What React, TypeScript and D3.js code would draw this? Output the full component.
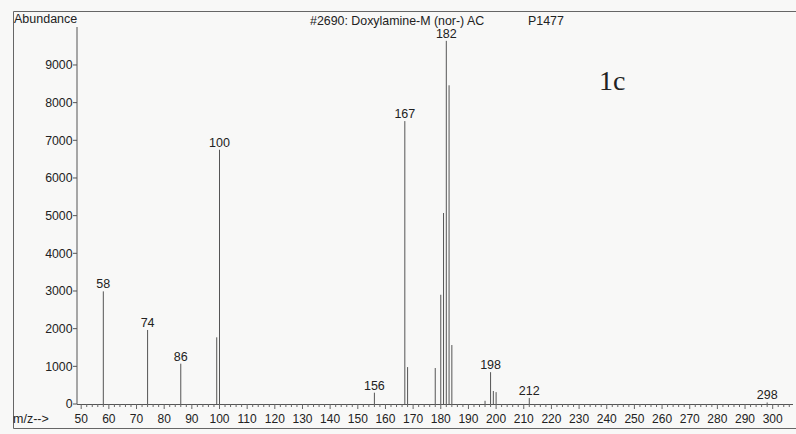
import React, { useEffect, useRef } from 'react';
import * as d3 from 'd3';

// peaks
const mzValues = [58, 74, 86, 99, 100, 156, 167, 168, 178, 180, 181, 182, 183, 184, 196, 198, 199, 200, 212, 298];
const abundances = [2990, 1965, 1070, 1770, 6750, 300, 7510, 980, 955, 2900, 5070, 9640, 8460, 1565, 85, 845, 345, 315, 160, 40];
const labeledPeaks = [58, 74, 86, 100, 156, 167, 182, 198, 212, 298];
const yTickValues = [0, 1000, 2000, 3000, 4000, 5000, 6000, 7000, 8000, 9000];
const xTickValues = d3.range(50, 301, 10);
const xMinorValues = d3.range(50, 307, 2);

const FONT = '"Liberation Sans", Arial, sans-serif';

const App: React.FC = () => {
    const svgRef = useRef<SVGSVGElement | null>(null);

    useEffect(() => {
        if (!svgRef.current) return;
        const width = 796;
        const height = 434;

        const svg = d3.select(svgRef.current)
            .attr('width', width)
            .attr('height', height)
            .attr('viewBox', `0 0 ${width} ${height}`);
        svg.selectAll('*').remove();

        const x = d3.scaleLinear().domain([50, 300]).range([81.2, 772.7]);
        const y = d3.scaleLinear().domain([0, 10000]).range([404, 27.3]);
        const axisX = 77;
        const axisY = y(0);

        svg.append('rect').attr('width', width).attr('height', height).attr('fill', '#f8f8f7');

        // frame
        svg.append('path')
            .attr('d', `M${width},11.5 H13.5 V428.5 H${width}`)
            .attr('fill', 'none').attr('stroke', '#666').attr('stroke-width', 1);

        // y axis
        svg.append('line')
            .attr('x1', axisX).attr('x2', axisX).attr('y1', 27).attr('y2', axisY)
            .attr('stroke', '#555');
        const yt = svg.append('g');
        yTickValues.forEach(v => {
            yt.append('line')
                .attr('x1', axisX - 4).attr('x2', axisX).attr('y1', y(v)).attr('y2', y(v))
                .attr('stroke', '#555');
            yt.append('text')
                .attr('x', axisX - 4.5).attr('y', y(v) + 4.4)
                .attr('text-anchor', 'end').attr('font-family', FONT).attr('font-size', 12.3)
                .attr('fill', '#222').text(v);
        });

        // x axis
        svg.append('line')
            .attr('x1', axisX).attr('x2', 793).attr('y1', axisY + 0.5).attr('y2', axisY + 0.5)
            .attr('stroke', '#555');
        const xt = svg.append('g');
        xMinorValues.forEach(v => {
            const major = v % 10 === 0;
            xt.append('line')
                .attr('x1', x(v)).attr('x2', x(v))
                .attr('y1', axisY).attr('y2', axisY + (major ? 5 : 3))
                .attr('stroke', '#666');
        });
        xTickValues.forEach(v => {
            xt.append('text')
                .attr('x', x(v)).attr('y', 422.7)
                .attr('text-anchor', 'middle').attr('font-family', FONT).attr('font-size', 12)
                .attr('fill', '#222').text(v);
        });

        // peaks
        svg.append('g')
            .selectAll('line')
            .data(mzValues)
            .join('line')
            .attr('x1', d => x(d)).attr('x2', d => x(d))
            .attr('y1', axisY)
            .attr('y2', (d, i) => y(abundances[i]))
            .attr('stroke', '#555')
            .attr('stroke-width', 1);

        svg.append('g')
            .selectAll('text')
            .data(labeledPeaks)
            .join('text')
            .attr('x', d => x(d))
            .attr('y', d => y(abundances[mzValues.indexOf(d)]) - 3)
            .attr('text-anchor', 'middle')
            .attr('font-family', FONT).attr('font-size', 12.5)
            .attr('fill', '#222')
            .text(d => d);

        // header texts
        svg.append('text').attr('x', 14).attr('y', 23)
            .attr('font-family', FONT).attr('font-size', 12.5).attr('fill', '#222')
            .text('Abundance');
        svg.append('text').attr('x', 310).attr('y', 24.5)
            .attr('font-family', FONT).attr('font-size', 12.4).attr('fill', '#222')
            .text('#2690: Doxylamine-M (nor-) AC');
        svg.append('text').attr('x', 528).attr('y', 24.5)
            .attr('font-family', FONT).attr('font-size', 12.4).attr('fill', '#222')
            .text('P1477');
        svg.append('text').attr('x', 13).attr('y', 422.7)
            .attr('font-family', FONT).attr('font-size', 12.5).attr('fill', '#222')
            .text('m/z-->');

        svg.append('text').attr('x', 599).attr('y', 89.5)
            .attr('font-family', '"Liberation Serif", "Times New Roman", serif')
            .attr('font-size', 28).attr('fill', '#222')
            .text('1c');
    }, []);

    return (
        <div style={{ position: 'absolute', left: 0, top: 0 }}>
            <svg ref={svgRef} style={{ display: 'block' }}></svg>
        </div>
    );
};

export default App;
